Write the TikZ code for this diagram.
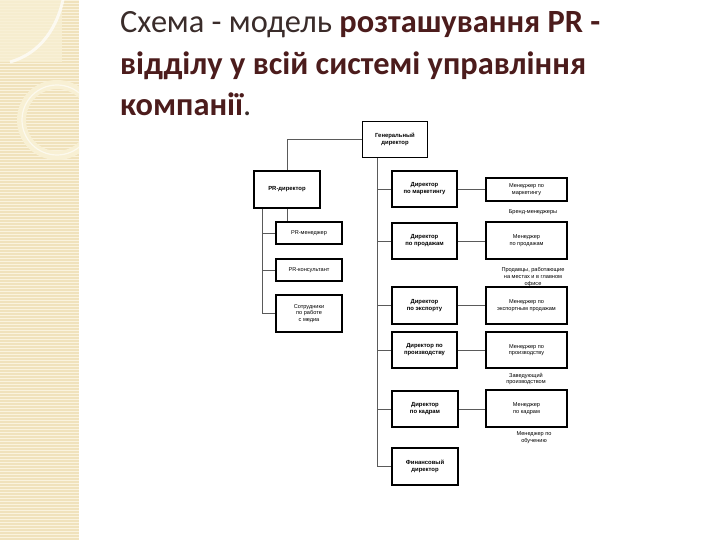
\documentclass[tikz,border=0pt]{standalone}
\usepackage{fontspec}
\setmainfont{Carlito}
\newfontfamily\chartfont{Liberation Sans}
\definecolor{strip}{RGB}{240,226,188}
\definecolor{stripline}{RGB}{250,243,222}
\definecolor{ringc}{RGB}{248,240,212}
\definecolor{titlereg}{RGB}{58,44,42}
\definecolor{titlebold}{RGB}{76,28,28}
\definecolor{conn}{RGB}{90,90,90}
\tikzset{
  orgbox/.style={draw=black, line width=1.1pt, fill=white, align=center, inner sep=1pt,
    font=\chartfont\fontsize{5.9}{6.9}\selectfont\bfseries},
  mgrbox/.style={orgbox, font=\chartfont\fontsize{5.6}{6.6}\selectfont},
  note/.style={align=center, inner sep=0pt, font=\chartfont\fontsize{5.6}{6.6}\selectfont},
  link/.style={draw=conn, line width=0.7pt},
  ttl/.style={anchor=base west, inner sep=0pt, font=\fontsize{32.4}{38}\selectfont}
}
\begin{document}
\begin{tikzpicture}[x=1pt,y=-1pt]
\useasboundingbox (0,0) rectangle (720,540);
\fill[white] (0,0) rectangle (720,540);
% decorative strip
\fill[strip] (0,0) rectangle (79,540);
\foreach \yy in {0,3,...,540} {\draw[stripline, line width=0.6pt] (0,\yy) -- (79,\yy);}
\begin{scope}
\clip (0,0) rectangle (79,540);
\fill[ringc, opacity=0.8] (0,0) rectangle (62,62);
\draw[white, opacity=0.7, line width=3pt] (63,0) .. controls (55,35) and (35,55) .. (10,62);
\fill[ringc, even odd rule] (57,120) circle (40) (57,120) circle (31);
\draw[white, opacity=0.6, line width=1.2pt] (57,120) circle (35);
\end{scope}
% title
\node[ttl, text=titlereg] (t1) at (120,33) {Схема - модель \textcolor{titlebold}{\bfseries розташування PR -}};
\node[ttl, text=titlebold] (t2) at (120,75) {\bfseries відділу у всій системі управління};
\node[ttl, text=titlebold] (t3) at (120,116) {\bfseries компанії\textcolor{titlereg}{\mdseries .}};
% chart boxes
\node[orgbox, minimum width=65pt, minimum height=36pt] (GD) at (395,139.5) {Генеральный\\директор};
\node[orgbox, minimum width=66pt, minimum height=37pt] (PRD) at (287,189.5) {PR-директор};
\node[mgrbox, minimum width=66pt, minimum height=22pt] (PRM) at (309,233) {PR-менеджер};
\node[mgrbox, minimum width=66pt, minimum height=22pt] (PRK) at (309,270) {PR-консультант};
\node[mgrbox, minimum width=66pt, minimum height=37pt] (SOT) at (309,313.5) {Сотрудники\\по работе\\с медиа};
\node[orgbox, minimum width=65pt, minimum height=36pt] (DM) at (424.5,189) {Директор\\по маркетингу};
\node[mgrbox, minimum width=81pt, minimum height=23pt] (MM) at (526.5,189.5) {Менеджер по\\маркетингу};
\node[orgbox, minimum width=65pt, minimum height=36pt] (DP) at (424.5,241) {Директор\\по продажам};
\node[mgrbox, minimum width=81pt, minimum height=37pt] (MP) at (526.5,240.5) {Менеджер\\по продажам};
\node[orgbox, minimum width=65pt, minimum height=37pt] (DE) at (424.5,305.5) {Директор\\по экспорту};
\node[mgrbox, minimum width=81pt, minimum height=37pt] (ME) at (526.5,305.5) {Менеджер по\\экспортным продажам};
\node[orgbox, minimum width=65pt, minimum height=36pt] (DPr) at (424.5,350) {Директор по\\производству};
\node[mgrbox, minimum width=81pt, minimum height=36pt] (MPr) at (526.5,350) {Менеджер по\\производству};
\node[orgbox, minimum width=66pt, minimum height=36pt] (DK) at (425,409) {Директор\\по кадрам};
\node[mgrbox, minimum width=81pt, minimum height=37pt] (MK) at (526.5,408.5) {Менеджер\\по кадрам};
\node[orgbox, minimum width=66pt, minimum height=37pt] (FD) at (425,466.5) {Финансовый\\директор};
% notes
\node[note] (n1) at (533,212) {Бренд-менеджеры};
\node[note] (n2) at (533,277) {Продавцы, работающие\\на местах и в главном\\офисе};
\node[note] (n3) at (526,379) {Заведующий\\производством};
\node[note] (n4) at (534,437.5) {Менеджер по\\обучению};
% connectors
\coordinate (rs) at (377,0);
\coordinate (ls) at (262,0);
\draw[link] (GD.west) -| (PRD.north);
\draw[link] (GD.south -| rs) |- (FD.west);
\foreach \d in {DM,DP,DE,DPr,DK} {\draw[link] (\d.west -| rs) -- (\d.west);}
\draw[link] (DM.east) -- (DM.east -| MM.west);
\draw[link] (DP.east) -- (DP.east -| MP.west);
\draw[link] (DE.east) -- (DE.east -| ME.west);
\draw[link] (DPr.east) -- (DPr.east -| MPr.west);
\draw[link] (DK.east) -- (DK.east -| MK.west);
\draw[link] (PRD.south -| ls) |- (SOT.west);
\draw[link] (PRM.west -| ls) -- (PRM.west);
\draw[link] (PRK.west -| ls) -- (PRK.west);
\draw[link] (PRD.south) -- (PRD.south |- PRM.north);
\end{tikzpicture}
\end{document}
